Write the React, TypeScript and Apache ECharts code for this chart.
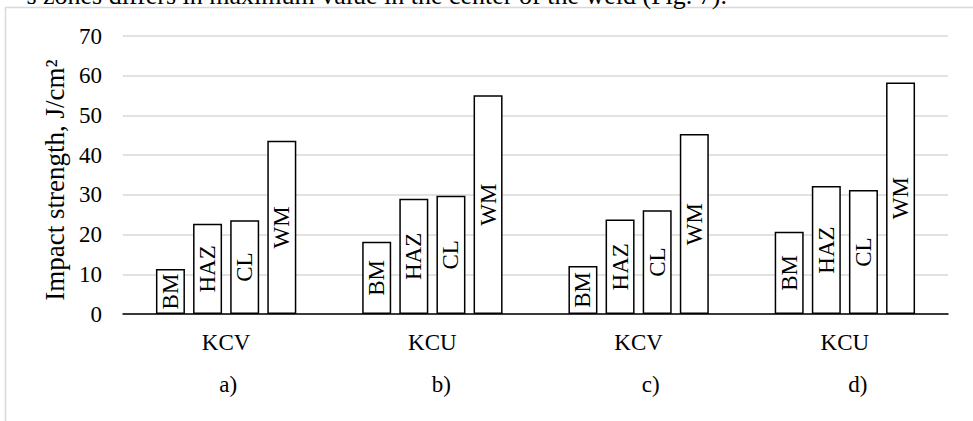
import React, { useEffect, useRef } from "react";
import * as echarts from "echarts";

const categories = ["KCV", "KCU", "KCV", "KCU"];
const subLabels = ["a)", "b)", "c)", "d)"];
const seriesNames = ["BM", "HAZ", "CL", "WM"];
const bmValues = [11.3, 18.2, 12.1, 20.7];
const hazValues = [22.7, 29.0, 23.8, 32.2];
const clValues = [23.6, 29.8, 26.1, 31.2];
const wmValues = [43.6, 55.1, 45.3, 58.3];
const yTicks = { min: 0, max: 70, interval: 10 };
const yTitle = "Impact strength, J/cm²";
const topText = "s zones differs in maximum value in the center of the weld (Fig. 7).";

const FONT = "'Liberation Serif', 'Times New Roman', serif";
const FS = 23;

export default function App() {
  const ref = useRef<HTMLDivElement>(null);
  useEffect(() => {
    if (!ref.current) return;
    const chart = echarts.init(ref.current, null, { renderer: "svg" });
    const values = [bmValues, hazValues, clValues, wmValues];
    const subPad = [4, 18, 24, 26];
    const rich: any = {};
    subLabels.forEach((_, i) => {
      rich["s" + i] = {
        fontFamily: FONT,
        fontSize: FS,
        color: "#000",
        padding: [0, 0, 0, subPad[i]],
      };
    });
    chart.setOption({
      animation: false,
      backgroundColor: "#fff",
      grid: { left: 123, right: 25, top: 36, bottom: 107, containLabel: false },
      graphic: [
        {
          type: "rect",
          shape: { x: 5.5, y: 7.5, width: 1000, height: 500 },
          style: { fill: "none", stroke: "#d9d9d9", lineWidth: 1.5 },
          silent: true,
        },
        {
          type: "text",
          x: 727,
          y: 8,
          style: {
            text: topText,
            font: "26px " + FONT,
            fill: "#000",
            textAlign: "right",
            textVerticalAlign: "bottom",
          },
          silent: true,
        },
      ],
      xAxis: [
        {
          type: "category",
          data: categories,
          position: "bottom",
          axisLine: { show: true, lineStyle: { color: "#000", width: 1.5 } },
          axisTick: { show: false },
          axisLabel: { fontFamily: FONT, fontSize: FS, color: "#000", margin: 17 },
        },
        {
          type: "category",
          data: subLabels,
          position: "bottom",
          axisLine: { show: false },
          axisTick: { show: false },
          axisLabel: {
            margin: 59,
            formatter: (v: string, i: number) => `{s${i}|${v}}`,
            rich,
          },
        },
      ],
      yAxis: {
        type: "value",
        min: yTicks.min,
        max: yTicks.max,
        interval: yTicks.interval,
        name: yTitle,
        nameLocation: "middle",
        nameGap: 51,
        nameTextStyle: {
          fontFamily: FONT,
          fontSize: 27,
          color: "#000",
          padding: [0, 10, 0, 0],
        },
        axisLine: { show: false },
        axisTick: { show: false },
        axisLabel: { fontFamily: FONT, fontSize: FS, color: "#000", margin: 21 },
        splitLine: { lineStyle: { color: "#d9d9d9", width: 1.5 } },
      },
      series: seriesNames.map((name, i) => ({
        name,
        type: "bar",
        xAxisIndex: 0,
        data: values[i],
        barWidth: 29,
        barGap: "28%",
        itemStyle: { color: "#fff", borderColor: "#000", borderWidth: 1.5 },
        label: {
          show: true,
          position: "inside",
          rotate: 90,
          formatter: name,
          fontFamily: FONT,
          fontSize: FS,
          color: "#000",
        },
      })),
    });
    return () => chart.dispose();
  }, []);
  return (
    <div
      ref={ref}
      style={{ position: "fixed", left: 0, top: 0, width: 973, height: 421 }}
    />
  );
}
